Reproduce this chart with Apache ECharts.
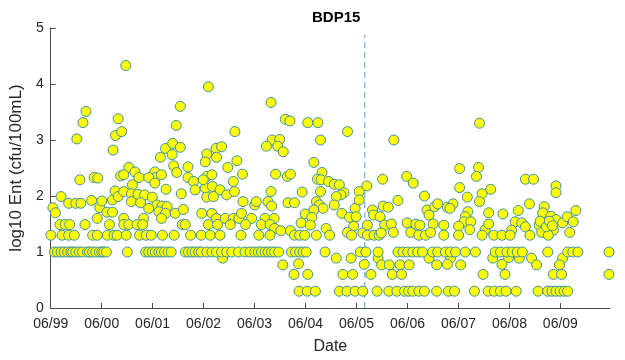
<!DOCTYPE html>
<html>
<head>
<meta charset="utf-8">
<title>BDP15</title>
<script src="https://cdn.jsdelivr.net/npm/echarts@6/dist/echarts.min.js"></script>
<style>
  html, body { margin: 0; padding: 0; background: #ffffff; }
  #chart { width: 625px; height: 360px; }
</style>
</head>
<body>
<div id="chart"></div>
<script>
// Enterococcus counts at station BDP15, log10 (cfu/100mL), sample dates as decimal years.
// Samples from June 1999 to mid 2000
const period1999 = [
  [1999.42,1.30],[1999.46,1.79],[1999.51,1.70],[1999.62,1.99],[1999.60,1.49],[1999.70,1.49],[1999.79,1.49],
  [1999.64,1.30],[1999.77,1.30],[1999.88,1.30],[1999.77,1.87],[1999.91,1.87],[2000.01,1.87],[1999.93,3.02],
  [2000.05,3.31],[2000.11,3.51],[1999.99,2.29],[2000.09,1.49],[2000.24,1.30],[2000.33,1.30],[2000.22,1.92],
  [2000.27,2.33],[2000.34,2.32],[2000.38,1.79],[2000.42,1.91],[2000.33,1.60],[2000.52,1.71],[2000.63,1.71],
  [2000.57,1.49],[2000.53,1.30],[2000.66,1.30],[2000.72,1.30],[2000.64,2.82],[2000.69,3.08],[2000.74,3.38],
  [2000.81,3.15],[2000.63,1.93],[2000.68,2.09],[2000.74,1.99],[2000.79,2.36]
];
// Mid 2000 to mid 2002
const period2001 = [
  [2000.89,4.33],[2001.96,3.60],[2001.88,3.26],[2001.67,2.85],[2001.57,2.69],[2001.81,2.94],[2001.80,2.74],
  [2001.96,2.87],[2000.95,2.51],[2001.07,2.43],[2000.85,2.38],[2001.15,2.33],[2001.46,2.43],[2001.47,2.33],
  [2001.34,2.33],[2001.59,2.38],[2001.46,2.23],[2001.83,2.54],[2001.89,2.42],[2002.11,2.52],[2002.11,2.33],
  [2002.22,2.26],[2002.25,2.11],[2001.02,2.20],[2000.85,2.08],[2001.00,2.04],[2001.13,2.03],[2001.26,2.02],
  [2001.41,1.98],[2001.68,2.12],[2001.98,2.04],[2001.00,1.90],[2001.18,1.88],[2001.50,1.84],[2001.60,1.82],
  [2001.70,1.81],[2001.54,1.72],[2001.67,1.69],[2001.86,1.69],[2002.02,1.76],[2001.34,1.78],[2001.59,1.60],
  [2001.24,1.60],[2000.85,1.60],[2000.85,1.49],[2000.95,1.49],[2001.11,1.49],[2001.22,1.49],[2002.00,1.49],
  [2002.06,1.49],[2000.90,1.30],[2001.16,1.30],[2001.29,1.30],[2001.39,1.30],[2001.61,1.30],[2001.84,1.30],
  [2002.16,1.30],[2002.37,1.30],[2002.38,1.69]
];
// Mid 2002 to early 2004
const period2003 = [
  [2002.51,3.95],[2003.74,3.67],[2003.03,3.15],[2003.76,3.00],[2003.91,3.01],[2003.65,2.89],[2003.87,2.89],
  [2002.48,2.75],[2002.66,2.85],[2002.77,2.88],[2002.67,2.69],[2002.45,2.61],[2003.07,2.63],[2002.89,2.51],
  [2003.18,2.39],[2003.83,2.39],[2002.48,2.35],[2002.58,2.38],[2002.45,2.14],[2002.41,2.29],[2002.59,2.17],
  [2002.74,2.11],[2002.87,2.02],[2003.02,2.08],[2003.00,2.26],[2002.48,1.98],[2002.61,1.99],[2003.19,1.90],
  [2003.42,1.84],[2003.45,1.90],[2003.68,1.90],[2003.74,2.08],[2003.75,1.82],[2002.58,1.69],[2002.67,1.60],
  [2002.84,1.60],[2003.00,1.60],[2003.11,1.60],[2003.16,1.69],[2003.36,1.60],[2003.62,1.60],[2003.80,1.60],
  [2002.51,1.49],[2002.69,1.49],[2002.94,1.49],[2003.24,1.49],[2003.55,1.49],[2003.72,1.49],[2003.81,1.42],
  [2002.55,1.30],[2002.74,1.30],[2003.15,1.30],[2003.50,1.30],[2003.72,1.30],[2003.93,1.38],[2002.79,0.89]
];
// Early 2004 to mid 2005
const period2004 = [
  [2004.02,3.37],[2004.11,3.34],[2004.46,3.31],[2004.66,3.31],[2005.24,3.15],[2004.71,3.00],[2003.98,2.79],
  [2004.58,2.60],[2004.74,2.42],[2004.06,2.35],[2004.12,2.39],[2004.65,2.30],[2004.72,2.29],[2004.87,2.26],
  [2004.98,2.21],[2005.08,2.20],[2004.35,2.07],[2004.71,2.08],[2005.17,2.06],[2005.11,2.02],[2005.02,1.99],
  [2005.47,2.08],[2004.07,1.88],[2004.20,1.88],[2004.63,1.90],[2004.69,1.84],[2004.76,1.78],[2005.39,1.78],
  [2005.47,1.93],[2004.98,1.84],[2004.41,1.68],[2004.58,1.75],[2004.54,1.62],[2005.13,1.69],[2005.28,1.62],
  [2005.41,1.63],[2004.33,1.52],[2004.51,1.48],[2004.82,1.42],[2004.89,1.30],[2005.36,1.46],[2005.24,1.35],
  [2004.12,1.38],[2004.20,1.30],[2004.30,1.30],[2004.40,1.30],[2004.63,1.30],[2005.32,1.30],[2005.54,1.34],
  [2003.97,0.77],[2004.28,0.79],[2005.02,0.89],[2005.31,0.89],[2004.19,0.60],[2004.46,0.60],[2005.15,0.60],
  [2005.34,0.60]
];
// Mid 2005 to early 2007
const period2006 = [
  [2006.15,3.00],[2006.40,2.35],[2006.53,2.23],[2005.93,2.30],[2005.62,2.18],[2006.23,1.92],[2006.75,2.00],
  [2005.73,1.75],[2005.75,1.66],[2005.88,1.63],[2005.94,1.82],[2006.04,1.80],[2005.97,1.48],[2006.10,1.50],
  [2005.63,1.48],[2006.41,1.52],[2006.58,1.50],[2006.66,1.48],[2006.80,1.75],[2006.84,1.66],[2006.92,1.50],
  [2006.95,1.81],[2007.01,1.86],[2005.63,1.30],[2005.76,1.30],[2005.86,1.30],[2005.90,1.34],[2006.14,1.35],
  [2006.48,1.35],[2006.64,1.30],[2006.77,1.30],[2006.87,1.35],[2005.84,0.89],[2006.84,0.89],[2005.57,0.78],
  [2005.91,0.77],[2006.06,0.77],[2006.27,0.77],[2006.45,0.77],[2006.99,0.77],[2005.70,0.60],[2006.12,0.60],
  [2006.30,0.60]
];
// Early 2007 to mid 2008
const period2007 = [
  [2007.83,3.30],[2007.44,2.49],[2007.81,2.51],[2007.77,2.35],[2007.44,2.15],[2008.05,2.12],[2007.59,1.98],
  [2007.88,2.04],[2007.83,1.90],[2007.20,1.80],[2007.31,1.86],[2007.25,1.78],[2007.60,1.72],[2007.55,1.63],
  [2007.52,1.54],[2007.66,1.54],[2008.01,1.70],[2008.29,1.68],[2008.59,1.74],[2008.53,1.54],[2007.13,1.48],
  [2007.42,1.46],[2007.64,1.40],[2007.94,1.40],[2008.01,1.50],[2008.46,1.39],[2007.13,1.30],[2007.42,1.30],
  [2007.88,1.30],[2008.11,1.30],[2008.27,1.30],[2008.43,1.30],[2007.26,0.89],[2008.09,0.89],[2008.40,0.90],
  [2008.61,0.89],[2007.20,0.78],[2007.46,0.77],[2008.27,0.78],[2007.90,0.60],[2008.33,0.60]
];
// Mid 2008 to 2010
const period2009 = [
  [2008.73,2.30],[2008.89,2.30],[2009.33,2.18],[2009.33,2.06],[2008.81,1.86],[2009.10,1.81],[2009.72,1.74],
  [2009.07,1.70],[2009.23,1.64],[2009.33,1.58],[2009.46,1.52],[2009.55,1.63],[2009.67,1.54],[2008.66,1.52],
  [2008.73,1.45],[2009.00,1.48],[2009.28,1.39],[2009.60,1.35],[2009.05,1.35],[2008.82,1.30],[2009.18,1.30],
  [2009.02,1.55],[2009.14,1.45],[2009.20,1.55],[2009.26,1.47],
  [2008.85,0.89],[2009.46,0.89],[2008.95,0.77],[2009.40,0.77],[2009.28,0.60],[2009.44,0.60],[2010.37,0.60]
];
// Dates of samples at the 10 cfu/100mL level (log10 = 1)
const datesAt10 = [
  1999.49,1999.55,1999.62,1999.68,1999.75,1999.81,1999.85,1999.91,1999.98,2000.04,2000.14,2000.18,2000.24,
  2000.30,2000.37,2000.42,2000.46,2000.51,2000.92,2001.28,2001.34,2001.41,2001.47,2001.54,2001.59,2001.65,
  2001.72,2001.78,2002.06,2002.12,2002.19,2002.25,2002.32,2002.37,2002.48,2002.58,2002.67,2002.77,2002.87,
  2002.97,2003.10,2003.23,2003.33,2003.42,2003.49,2003.55,2003.62,2003.68,2003.75,2003.81,2003.89,2004.14,
  2004.22,2004.30,2004.37,2004.43,2004.80,2005.49,2005.60,2005.84,2006.23,2006.33,2006.42,2006.52,2006.62,
  2006.71,2006.91,2007.01,2007.16,2007.26,2007.36,2007.55,2007.75,2008.14,2008.24,2008.37,2008.47,2008.57,
  2008.67,2009.17,2009.56,2009.66,2009.76,2010.37
];
// Dates of samples at the 2 cfu/100mL level (log10 = 0.3)
const datesAt2 = [
  2004.29,2004.45,2004.61,2005.08,2005.23,2005.39,2005.54,2005.82,2006.05,2006.21,2006.36,2006.44,2006.52,
  2006.64,2006.75,2006.99,2007.22,2007.34,2007.73,2008.00,2008.12,2008.24,2008.35,2008.55,2008.98,2009.17,
  2009.25,2009.33,2009.41,2009.49,2009.56
];

// Axis setup: yearly ticks every June
const axisStart = 1999.4167;
const axisEnd = 2010.39;
const tickLabels = ['06/99','06/00','06/01','06/02','06/03','06/04','06/05','06/06','06/07','06/08','06/09'];
const yTicks = [0, 1, 2, 3, 4, 5];
const eventDate = 2005.58;   // dashed reference line
const eventTop = 4.88;

const tickValues = tickLabels.map((_, i) => axisStart + i);
const points = []
  .concat(period1999, period2001, period2003, period2004, period2006, period2007, period2009)
  .concat(datesAt10.map(d => [d, 1.0]))
  .concat(datesAt2.map(d => [d, 0.30]));

const font = '"Liberation Sans", Arial, Helvetica, sans-serif';
const axisColor = '#4a4a4a';
const textColor = '#262626';
const refLineColor = '#4f9fd6';

const chart = echarts.init(document.getElementById('chart'), null, { renderer: 'canvas' });
chart.setOption({
  animation: false,
  backgroundColor: '#ffffff',
  title: {
    text: 'BDP15',
    left: 307,
    top: 5,
    textStyle: { fontFamily: font, fontSize: 15, fontWeight: 'bold', color: '#000000' }
  },
  grid: { left: 48, right: 15, top: 28, bottom: 52, containLabel: false },
  xAxis: {
    type: 'value',
    min: axisStart,
    max: axisEnd,
    name: 'Date',
    nameLocation: 'middle',
    nameGap: 31,
    nameTextStyle: { fontFamily: font, fontSize: 16, color: textColor },
    axisLine: { show: true, lineStyle: { color: axisColor, width: 1 } },
    axisTick: { show: true, inside: true, length: 5, customValues: tickValues, lineStyle: { color: axisColor } },
    axisLabel: {
      customValues: tickValues,
      fontFamily: font, fontSize: 14, color: textColor, margin: 9,
      formatter: v => tickLabels[Math.round(v - axisStart)] || ''
    },
    splitLine: { show: false }
  },
  yAxis: {
    type: 'value',
    min: 0,
    max: 5,
    interval: 1,
    name: 'log10 Ent (cfu/100mL)',
    nameLocation: 'middle',
    nameGap: 22,
    nameTextStyle: { fontFamily: font, fontSize: 17, color: textColor },
    axisLine: { show: true, lineStyle: { color: axisColor, width: 1 } },
    axisTick: { show: true, inside: true, length: 5, lineStyle: { color: axisColor } },
    axisLabel: {
      fontFamily: font, fontSize: 14, color: textColor, margin: 7,
      formatter: v => (yTicks.indexOf(v) >= 0 ? String(v) : '')
    },
    splitLine: { show: false }
  },
  series: [
    {
      // dashed vertical reference line
      type: 'line',
      data: [[eventDate, 0], [eventDate, eventTop]],
      symbol: 'none',
      silent: true,
      z: 1,
      lineStyle: { type: [6, 4], color: refLineColor, width: 1 },
      itemStyle: { color: refLineColor }
    },
    {
      type: 'scatter',
      data: points,
      symbol: 'circle',
      symbolSize: 10,
      clip: false,
      z: 2,
      itemStyle: { color: '#ffff00', borderColor: '#3b8fa8', borderWidth: 1, opacity: 1 }
    }
  ]
});
</script>
</body>
</html>
